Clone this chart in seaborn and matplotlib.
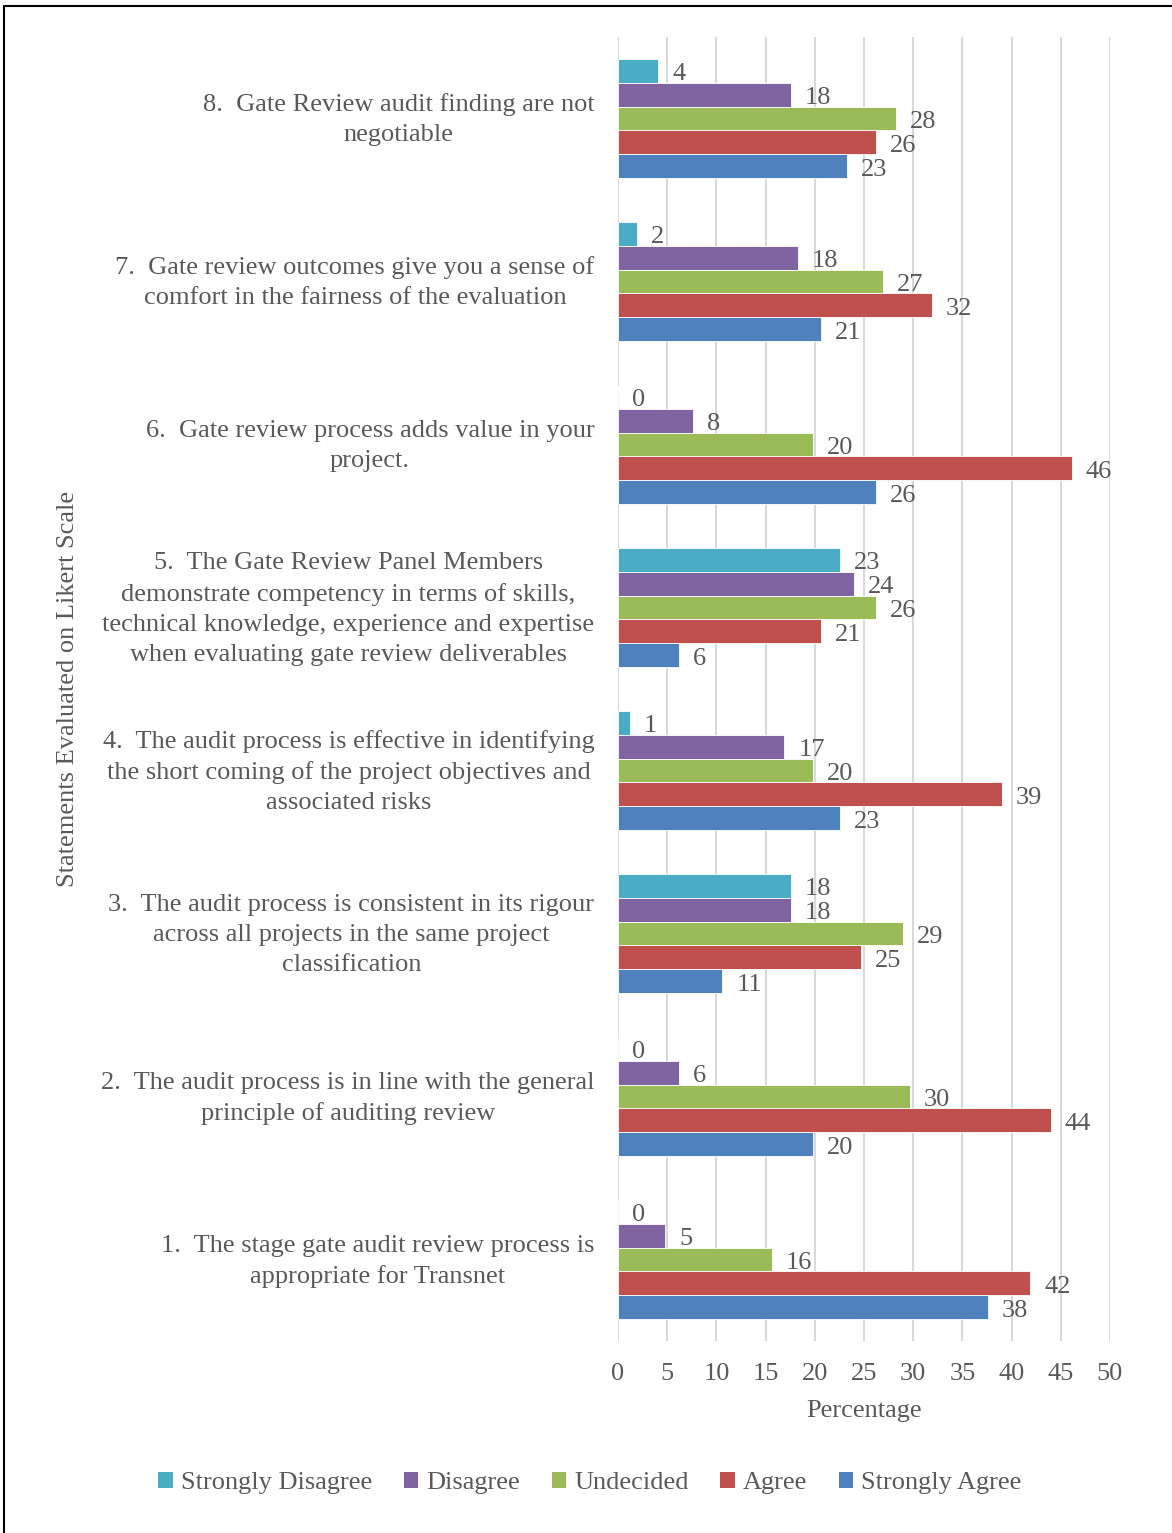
import matplotlib
matplotlib.use("Agg")
import matplotlib.pyplot as plt
import matplotlib.transforms as mtrans
from matplotlib.patches import Patch
from matplotlib.lines import Line2D
import seaborn as sns
import pandas as pd

statements = [
    "8.  Gate Review audit finding are not\nnegotiable",
    "7.  Gate review outcomes give you a sense of\ncomfort in the fairness of the evaluation",
    "6.  Gate review process adds value in your\nproject.",
    "5.  The Gate Review Panel Members\ndemonstrate competency in terms of skills,\ntechnical knowledge, experience and expertise\nwhen evaluating gate review deliverables",
    "4.  The audit process is effective in identifying\nthe short coming of the project objectives and\nassociated risks",
    "3.  The audit process is consistent in its rigour\nacross all projects in the same project\nclassification",
    "2.  The audit process is in line with the general\nprinciple of auditing review",
    "1.  The stage gate audit review process is\nappropriate for Transnet",
]
levels = ["Strongly Disagree", "Disagree", "Undecided", "Agree", "Strongly Agree"]
strongly_disagree = [4.1, 1.9, 0.0, 22.6, 1.2, 17.6, 0.0, 0.0]
disagree = [17.6, 18.3, 7.6, 24.0, 16.9, 17.6, 6.2, 4.8]
undecided = [28.3, 26.9, 19.8, 26.2, 19.8, 29.0, 29.7, 15.6]
agree = [26.2, 31.9, 46.1, 20.6, 39.0, 24.7, 44.0, 41.9]
strongly_agree = [23.3, 20.6, 26.2, 6.2, 22.6, 10.6, 19.8, 37.6]
colors = ["#4BACC6", "#8064A2", "#9BBB59", "#C0504D", "#4F81BD"]
x_ticks = [0, 5, 10, 15, 20, 25, 30, 35, 40, 45, 50]

series = [strongly_disagree, disagree, undecided, agree, strongly_agree]
rows = []
for lvl, vals in zip(levels, series):
    for s, v in zip(statements, vals):
        rows.append({"Statement": s, "Response": lvl, "Percentage": v})
df = pd.DataFrame(rows)

sns.set_theme(style="white")
plt.rcParams["font.family"] = ["Liberation Serif", "DejaVu Serif"]
txt = "#595959"
fs = 19

fig = plt.figure(figsize=(11.72, 15.33), dpi=100)
ax = fig.add_axes([618 / 1172, 1 - 1341 / 1533, 492 / 1172, (1341 - 37) / 1533])

sns.barplot(data=df, y="Statement", x="Percentage", hue="Response",
            order=statements, hue_order=levels, palette=colors, saturation=1,
            orient="h", width=0.736, dodge=True, legend=False,
            edgecolor="white", linewidth=0.6, ax=ax, errorbar=None)

for cont in ax.containers:
    vals = cont.datavalues
    labs = ax.bar_label(cont, labels=[f"{v:.0f}" for v in vals], padding=10,
                        fontsize=fs, color=txt)
    for t in labs:
        t.xyann = (10, -2.2)

ax.set_xlim(0, 50)
ax.set_xticks(x_ticks)
ax.set_xticklabels([str(t) for t in x_ticks])
ax.grid(axis="x", color="#D9D9D9", linewidth=1.5)
ax.set_axisbelow(True)
for sp in ax.spines.values():
    sp.set_visible(False)
ax.tick_params(axis="x", length=0, pad=16, labelsize=fs, labelcolor=txt)
ax.tick_params(axis="y", length=0, pad=17, labelsize=fs, labelcolor=txt)
up = mtrans.ScaledTranslation(0, 5 / 100, fig.dpi_scale_trans)
for lab in ax.get_yticklabels():
    lab.set_multialignment("center")
    lab.set_linespacing(1.47)
    lab.set_transform(lab.get_transform() + up)
ax.set_xlabel("Percentage", fontsize=fs, color=txt, labelpad=11)
ax.set_ylabel("")
fig.text(68 / 1172, 1 - 689 / 1533, "Statements Evaluated on Likert Scale",
         rotation=90, ha="center", va="center", fontsize=fs, color=txt)

handles = [Patch(facecolor=c, edgecolor="none", label=l) for c, l in zip(colors, levels)]
fig.legend(handles=handles, loc="center", bbox_to_anchor=(590 / 1172, 1 - 1483 / 1533),
           ncol=5, frameon=False, fontsize=fs, labelcolor=txt,
           handlelength=0.55, handleheight=0.55, handletextpad=0.3, columnspacing=1.2)

fig.add_artist(Line2D([4 / 1172, 1], [1 - 6 / 1533, 1 - 6 / 1533], color="black", linewidth=1.5))
fig.add_artist(Line2D([4 / 1172, 4 / 1172], [0, 1 - 6 / 1533], color="black", linewidth=1.5))

fig.savefig("out.png", dpi=100)
